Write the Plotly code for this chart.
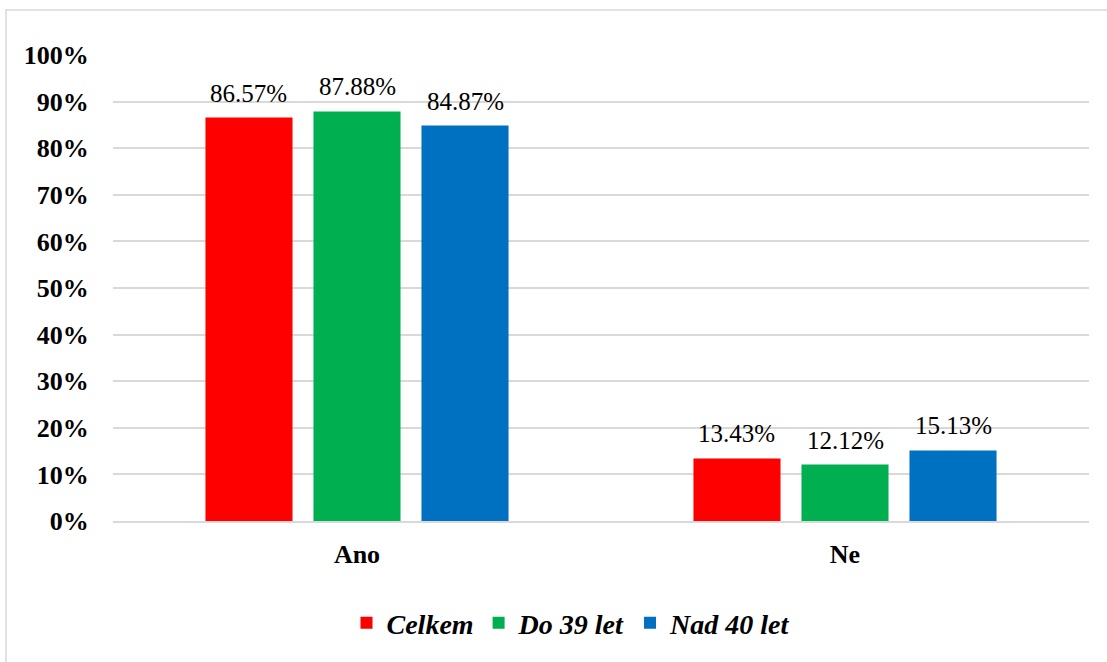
import plotly.graph_objects as go

categories = ["Ano", "Ne"]
series_names = ["Celkem", "Do 39 let", "Nad 40 let"]
celkem = [86.57, 13.43]
do39 = [87.88, 12.12]
nad40 = [84.87, 15.13]
colors = ["#FF0000", "#00B050", "#0070C0"]
tick_vals = [0, 10, 20, 30, 40, 50, 60, 70, 80, 90, 100]

FONT = "Liberation Serif"
W, H = 1107, 662
ML, MR, MT, MB = 113, 18, 55, 141
BARGAP, GROUPGAP = 0.336, 0.194

plot_w = W - ML - MR
plot_h = H - MT - MB
slot = plot_w / len(categories) * (1 - BARGAP) / len(series_names)

fig = go.Figure()
annotations = []
for i, (name, vals, col) in enumerate(zip(series_names, [celkem, do39, nad40], colors)):
    fig.add_trace(go.Bar(
        x=categories, y=vals, name=name,
        marker=dict(color=col, line=dict(width=0)),
        hoverinfo="skip",
    ))
    for c, v in zip(categories, vals):
        annotations.append(dict(
            x=c, y=v, xref="x", yref="y", text=f"{v:.2f}%", showarrow=False,
            xanchor="center", yanchor="bottom", yshift=9,
            xshift=(i - (len(series_names) - 1) / 2) * slot,
            font=dict(family=FONT, size=25, color="#000000"),
        ))

fig.update_layout(
    width=W, height=H,
    margin=dict(l=ML, r=MR, t=MT, b=MB),
    paper_bgcolor="white", plot_bgcolor="white",
    barmode="group", bargap=BARGAP, bargroupgap=GROUPGAP,
    showlegend=True,
    legend=dict(orientation="h", x=(571 - ML) / plot_w, xanchor="center",
                y=-(623 - (H - MB)) / plot_h, yanchor="middle",
                font=dict(family=FONT, size=28, color="#000000", weight="bold", style="italic"),
                itemwidth=30, traceorder="normal"),
    font=dict(family=FONT, color="#000000"),
    annotations=annotations,
    shapes=[dict(type="rect", xref="paper", yref="paper",
                 x0=(6 - ML) / plot_w, x1=(W + 20 - ML) / plot_w,
                 y0=-(H + 20 - (H - MB)) / plot_h, y1=((H - MB) - 10) / plot_h,
                 line=dict(color="#D9D9D9", width=1.5), fillcolor="rgba(0,0,0,0)", layer="below")],
)
fig.update_yaxes(range=[0, 100], tickvals=tick_vals, ticktext=[f"{v}%" for v in tick_vals],
                 showgrid=True, gridcolor="#D9D9D9", gridwidth=1.5,
                 zeroline=False, showline=False, fixedrange=True,
                 ticks="outside", ticklen=18, tickcolor="rgba(0,0,0,0)",
                 tickfont=dict(family=FONT, size=26, color="#000000", weight="bold"))
fig.update_xaxes(showgrid=False, showline=True, linecolor="#D9D9D9", linewidth=1.5,
                 fixedrange=True,
                 ticks="outside", ticklen=9, tickcolor="rgba(0,0,0,0)",
                 tickfont=dict(family=FONT, size=26, color="#000000", weight="bold"))

fig.write_html("out.html", config={"displayModeBar": False},
               post_script="document.body.style.margin='0';document.body.style.overflow='hidden';")
